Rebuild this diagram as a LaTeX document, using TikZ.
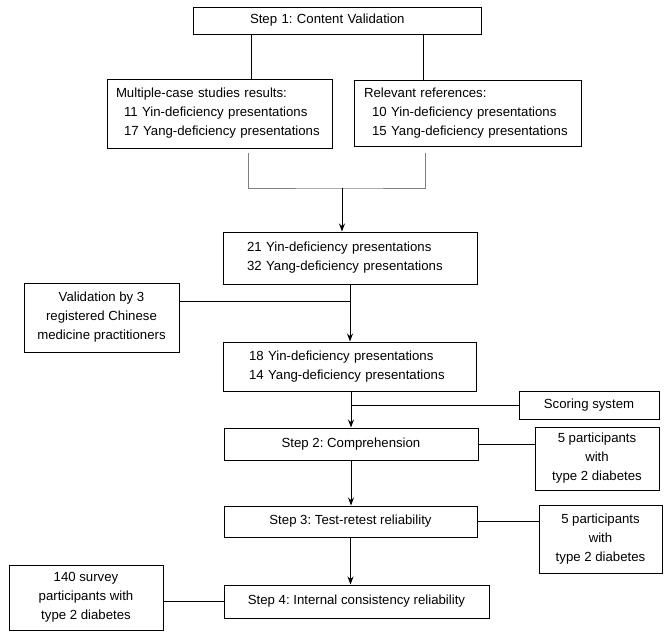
\documentclass[tikz,border=0pt]{standalone}
\usepackage{fontspec}
\setmainfont{Liberation Sans}
\usepackage{tikz}
\usetikzlibrary{arrows.meta}
\tikzstyle{arrow} = [->,>={Stealth[length=8pt,width=6pt]}]
\frenchspacing

\begin{document}
\begin{tikzpicture}[x=1pt, y=-1pt, line width=1pt,
  every node/.style={draw, line width=1pt, inner sep=0pt, align=center, font=\fontsize{13.2}{19}\selectfont},
  lbox/.style 2 args={text width=#1, inner xsep=#2, align=left}]
        \useasboundingbox (0,0) rectangle (669,637);
        % Node positions
        \node[lbox={174pt}{57pt}, minimum height=27pt] (A) at (337,20.5) {Step 1: Content Validation};
        \node[lbox={207pt}{9pt}, minimum height=69pt] (B) at (219.5,113.5) {Multiple-case studies results:\\\hspace*{8pt}11 Yin-deficiency presentations\\\hspace*{8pt}17 Yang-deficiency presentations};
        \node[lbox={207pt}{10pt}, minimum height=66pt] (C) at (467.5,113) {Relevant references:\\\hspace*{8pt}10 Yin-deficiency presentations\\\hspace*{8pt}15 Yang-deficiency presentations};
        \node[lbox={206pt}{24pt}, minimum height=52pt] (D) at (350,258) {21 Yin-deficiency presentations\\32 Yang-deficiency presentations};
        \node[minimum width=155pt, minimum height=69pt] (E) at (101.5,317.5) {Validation by 3\\registered Chinese\\medicine practitioners};
        \node[lbox={201pt}{26pt}, minimum height=49pt] (F) at (349.5,366.5) {18 Yin-deficiency presentations\\14 Yang-deficiency presentations};
        \node[minimum width=140pt, minimum height=28pt] (G) at (589,405) {Scoring system};
        \node[minimum width=254pt, minimum height=32pt] (H) at (351,444) {Step 2: Comprehension};
        \node[minimum width=124pt, minimum height=63pt] (I) at (597,458.5) {5 participants\\with\\type 2 diabetes};
        \node[minimum width=253pt, minimum height=31pt] (J) at (350.5,521.5) {Step 3: Test-retest reliability};
        \node[minimum width=123pt, minimum height=68pt] (K) at (600.5,539) {5 participants\\with\\type 2 diabetes};
        \node[minimum width=265pt, minimum height=33pt] (L) at (356.5,601.5) {Step 4: Internal consistency reliability};
        \node[minimum width=154pt, minimum height=65pt] (M) at (86,597.5) {140 survey\\participants with\\type 2 diabetes};
        \coordinate (join) at (342,188);

        \draw ([xshift=59pt]A.south west) -- ([xshift=145pt]B.north west);
        \draw ([xshift=231pt]A.south west) -- ([xshift=70pt]C.north west);
        \draw[gray] ([xshift=142pt,yshift=-4pt]B.south west) |- (join) -| ([xshift=72pt,yshift=-6pt]C.south west);
        \draw[arrow] (join) -- (join |- D.north);
        \draw[arrow] (D.south) -- (D.south |- F.north);
        \draw ([yshift=16.5pt]E.east) -- ([yshift=16.5pt]E.east -| D.south);
        \draw[arrow] (F.south -| H.north) -- (H.north);
        \draw (G.west) -- (G.west -| H.north);
        \draw (H.east) -- (H.east -| I.west);
        \draw[arrow] (H.south) -- (H.south |- J.north);
        \draw (J.east) -- (J.east -| K.west);
        \draw[arrow] (J.south) -- (J.south |- L.north);
        \draw (L.west) -- (L.west -| M.east);
      \end{tikzpicture}
\end{document}
